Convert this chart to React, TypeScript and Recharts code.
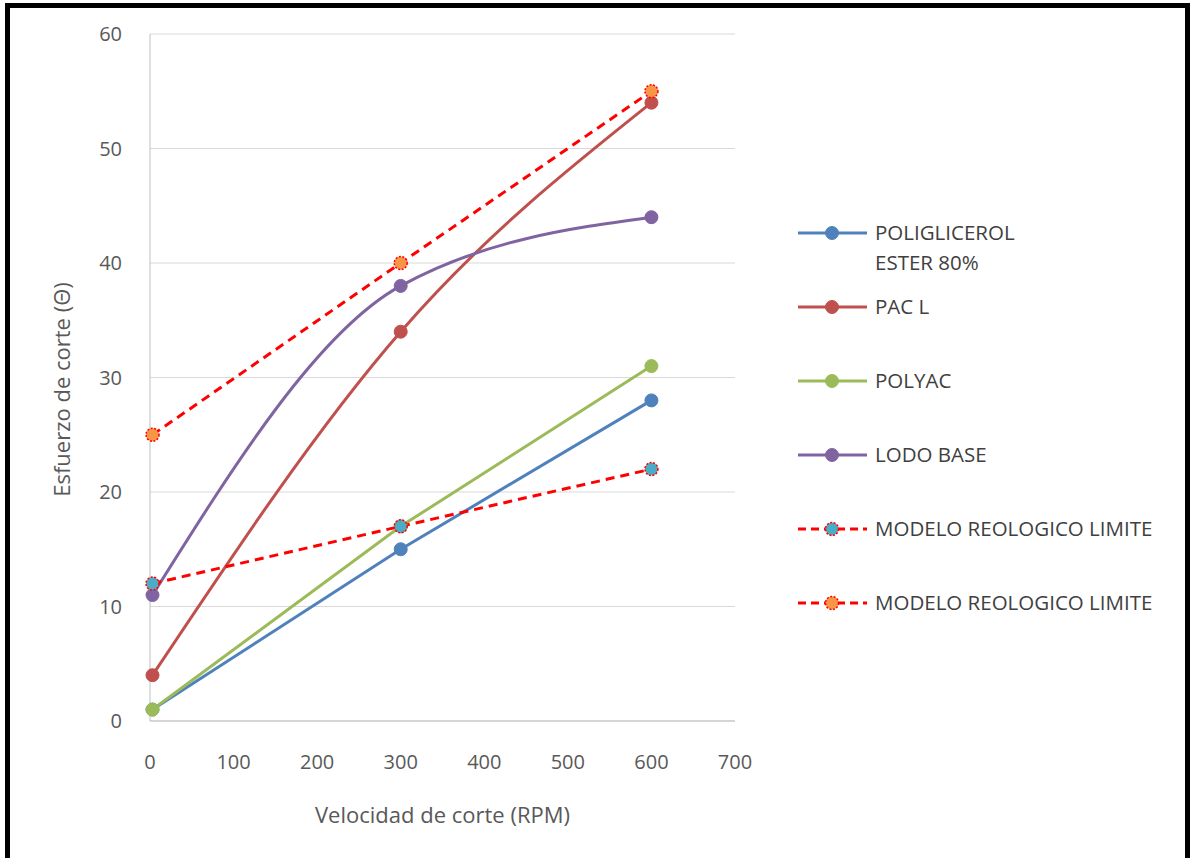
import React from "react";
import { CartesianGrid, Legend, Line, LineChart, XAxis, YAxis } from "recharts";

const speeds = [3, 300, 600];
const poliglicerol = [1, 15, 28];
const pacL = [4, 34, 54];
const polyac = [1, 17, 31];
const lodoBase = [11, 38, 44];
const limiteBajo = [12, 17, 22];
const limiteAlto = [25, 40, 55];

const xTicks = [0, 100, 200, 300, 400, 500, 600, 700];
const yTicks = [0, 10, 20, 30, 40, 50, 60];

const data = speeds.map((s, i) => ({
  rpm: s,
  poli: poliglicerol[i],
  pac: pacL[i],
  polyac: polyac[i],
  lodo: lodoBase[i],
  limBajo: limiteBajo[i],
  limAlto: limiteAlto[i],
}));

const series = [
  { key: "poli", label: ["POLIGLICEROL", "ESTER 80%"], color: "#4F81BD", dashed: false, fill: "#4F81BD", smooth: false },
  { key: "pac", label: ["PAC L"], color: "#C0504D", dashed: false, fill: "#C0504D", smooth: true },
  { key: "polyac", label: ["POLYAC"], color: "#9BBB59", dashed: false, fill: "#9BBB59", smooth: false },
  { key: "lodo", label: ["LODO BASE"], color: "#8064A2", dashed: false, fill: "#8064A2", smooth: true },
  { key: "limBajo", label: ["MODELO REOLOGICO LIMITE"], color: "#FF0000", dashed: true, fill: "#4BACC6", smooth: false },
  { key: "limAlto", label: ["MODELO REOLOGICO LIMITE"], color: "#FF0000", dashed: true, fill: "#F79646", smooth: false },
];

const font = "'Open Sans', sans-serif";
const textGray = "#595959";
const LEGEND_W = 380;

const LegendBox = () => (
  <div style={{ fontFamily: font, fontSize: 20.5, color: "#404040", width: LEGEND_W }}>
    {series.map((s) => (
      <div key={s.key} style={{ display: "flex", alignItems: "flex-start", height: 74 }}>
        <svg width={72} height={26} style={{ marginRight: 6, flexShrink: 0 }}>
          <line x1={1} y1={13} x2={70} y2={13} stroke={s.color} strokeWidth={3}
            strokeDasharray={s.dashed ? "8 5" : undefined} />
          <circle cx={35} cy={13} r={6.5} fill={s.fill}
            stroke={s.dashed ? s.color : s.fill} strokeWidth={s.dashed ? 1.5 : 1}
            strokeDasharray={s.dashed ? "2 1.5" : undefined} />
        </svg>
        <div style={{ lineHeight: "30px", marginTop: -3, whiteSpace: "nowrap" }}>
          {s.label.map((l) => <div key={l}>{l}</div>)}
        </div>
      </div>
    ))}
  </div>
);

export default function App() {
  return (
    <div style={{ position: "absolute", left: 0, top: 0, width: 1191, height: 858, background: "#fff", overflow: "hidden" }}>
      <div style={{ position: "absolute", left: 5, top: 3, width: 1175, height: 900, border: "5px solid #000", borderBottom: "none" }} />
      <div style={{ position: "absolute", left: 0, top: 0 }}>
        <LineChart width={1191} height={858} data={data}
          margin={{ top: 34, right: 456 - LEGEND_W, left: 90, bottom: 97 }}>
          <CartesianGrid vertical={false} stroke="#D9D9D9" strokeWidth={1} />
          <XAxis dataKey="rpm" type="number" domain={[0, 700]} ticks={xTicks}
            axisLine={{ stroke: "#BFBFBF" }} tickLine={false} height={40} tickMargin={28}
            tick={{ fill: textGray, fontSize: 20, fontFamily: font }}
            label={{
              content: ({ viewBox }: any) => (
                <text x={viewBox.x + viewBox.width / 2} y={viewBox.y + 102} textAnchor="middle"
                  fill={textGray} fontSize={22} fontFamily={font}>Velocidad de corte (RPM)</text>
              ),
            }} />
          <YAxis type="number" domain={[0, 60]} ticks={yTicks} width={60}
            axisLine={{ stroke: "#BFBFBF" }} tickLine={false} tickMargin={22}
            tick={{ fill: textGray, fontSize: 20, fontFamily: font }}
            label={{
              content: ({ viewBox }: any) => {
                const cx = 70;
                const cy = viewBox.y + viewBox.height / 2 + 12;
                return (
                  <text x={cx} y={cy} textAnchor="middle" fill={textGray} fontSize={22} fontFamily={font}
                    transform={`rotate(-90, ${cx}, ${cy})`}>Esfuerzo de corte (Θ)</text>
                );
              },
            }} />
          <Legend layout="vertical" align="right" verticalAlign="top"
            wrapperStyle={{ position: "absolute", left: 797, top: 220, width: LEGEND_W }}
            content={() => <LegendBox />} />
          {series.map((s) => (
            <Line key={s.key} dataKey={s.key} type={s.smooth ? "monotone" : "linear"}
              stroke={s.color} strokeWidth={3}
              strokeDasharray={s.dashed ? "9 6" : undefined}
              dot={{ r: 6.5, fill: s.fill, stroke: s.dashed ? s.color : s.fill, strokeWidth: s.dashed ? 1.5 : 1, strokeDasharray: s.dashed ? "2 1.5" : undefined }}
              activeDot={false} isAnimationActive={false} />
          ))}
        </LineChart>
      </div>
    </div>
  );
}
